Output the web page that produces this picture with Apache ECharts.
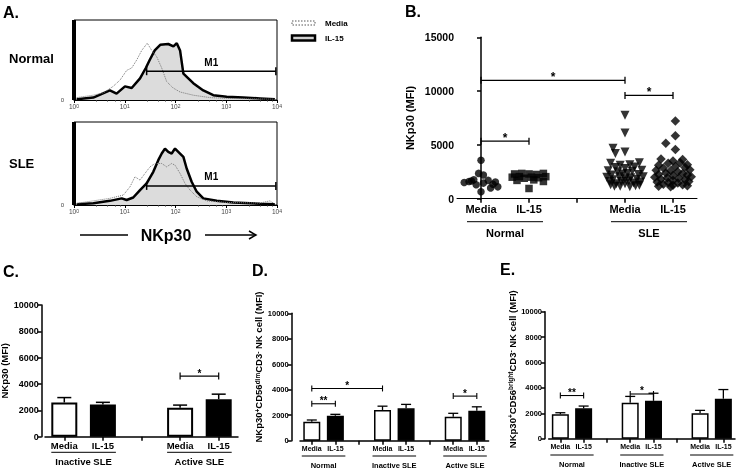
<!DOCTYPE html>
<html><head><meta charset="utf-8">
<script src="https://cdn.jsdelivr.net/npm/echarts@6/dist/echarts.min.js"></script>
<style>html,body{margin:0;padding:0;background:#fff}#c{width:740px;height:468px;will-change:transform}</style>
</head><body><div id="c"></div>
<script>
// ---------- Panel A: flow histograms [fluorescence, relative count] ----------
const histNormalMedia = [[1.13,3],[2.4,6],[3.8,9],[5.9,17],[8.1,25],[10.9,37],[13.7,40],[17.2,50],[21.6,62],[27.8,71],[34,62],[42.7,54],[53.5,40],[67,23],[90,15],[123,10],[224,6],[478,3],[1020,2],[9130,1]];
const histNormalIL15 = [[1.13,1],[2.4,3],[5.1,12],[6.9,8],[10.1,17],[13.7,15],[20,27],[26,40],[31,50],[39,62],[50,69],[72,70],[91,67],[106,71],[123,62],[143,33],[179,27],[224,21],[353,12],[556,6],[1020,4],[2170,3],[4620,2],[9130,1]];
const histSleMedia = [[1.13,2],[2.4,5],[5.1,8],[9.4,12],[12.7,22],[15.9,34],[20,30],[25,38],[31.5,46],[39.4,50],[53.5,50],[67,46],[84,50],[98,48],[123,38],[154,26],[193,18],[262,10],[412,5],[1020,3],[4620,2.4],[7280,5],[9130,1]];
const histSleIL15 = [[1.13,1],[2.4,2],[5.1,5],[8.7,8],[10.9,6],[14.7,9],[20,18],[27,26],[36.5,40],[45.8,54],[53.5,62],[62,68],[72,64],[84,62],[98,68],[123,62],[143,58],[166,44],[208,28],[262,16],[353,8],[649,5],[1377,3],[4620,1.6],[9130,1]];
const histSpike = [[1,0],[1,100]];
const m1Normal = [[27, 9500, 36]];
const m1Sle = [[27, 9500, 23]];
const m1Labels = ['M1'];

// ---------- Panel B: scatter [jitter, MFI] ----------
const catsB = ['Media','IL-15','','Media','IL-15'];
const groupsB = [[0,1],[3,4]];
const groupNamesB = ['Normal','SLE'];
const bNormalMedia = [[0,3580],[-0.05,2350],[0.05,2200],[-0.25,1600],[-0.15,1750],[0.15,1700],[-0.35,1500],[0.3,1550],[0.05,1450],[0.35,1100],[0.2,1000],[-0.1,1300],[0,650],[-0.2,1650],[0.25,1350]];
const bNormalIL15 = [[-0.3,2300],[-0.15,2350],[0,2300],[0.15,2250],[0.3,2350],[-0.35,2000],[-0.2,2050],[0.05,2000],[0.2,1950],[0.35,2050],[-0.25,1700],[0.1,1750],[0.3,1600],[0,950],[-0.1,1900]];
const bSleMedia = [[0,7750],[0,6100],[-0.25,4700],[-0.2,4200],[0,4350],[-0.3,3300],[0.3,3350],[-0.1,3100],[0.1,3150],[-0.2,2900],[0.2,2950],[0,2800],[-0.35,2600],[0.35,2650],[-0.15,2500],[0.15,2550],[0.05,2350],[-0.05,2300],[-0.28,2200],[0.28,2250],[-0.38,2000],[0.38,2050],[-0.12,2050],[0.12,1950],[0,1850],[-0.25,1750],[0.25,1800],[-0.32,1600],[0.32,1550],[-0.08,1600],[0.08,1650],[-0.18,1400],[0.18,1450],[-0.3,1300],[0.3,1250],[0,1400],[-0.1,1150],[0.1,1100],[0.22,1200],[-0.22,1150]];
const bSleIL15 = [[0.05,7220],[0.05,5850],[-0.15,5150],[0.05,4570],[-0.25,3700],[0.2,3650],[0,3500],[-0.1,3300],[0.15,3350],[-0.3,3100],[0.3,3150],[0.05,3000],[-0.2,2850],[0.25,2900],[-0.35,2650],[0.35,2700],[-0.05,2600],[0.1,2500],[-0.15,2400],[0.2,2350],[-0.3,2250],[0.3,2200],[0,2150],[-0.38,2000],[0.38,2050],[-0.12,1950],[0.12,1900],[-0.25,1800],[0.25,1750],[0,1700],[-0.33,1550],[0.33,1600],[-0.1,1500],[0.1,1450],[-0.2,1350],[0.2,1300],[0,1250],[-0.3,1150],[0.3,1200],[-0.05,1100]];
const bracketsB = [[0,3,11000],[3,4,9600],[0,1,5350]];
const bracketLabelsB = ['*','*','*'];

// ---------- Panel C: bars ----------
const catsC = ['Media','IL-15','','Media','IL-15'];
const groupsC = [[0,1],[3,4]];
const groupNamesC = ['Inactive SLE','Active SLE'];
const cMediaIdx = [0,3], cIL15Idx = [1,4];
const cMedia = [2600, 2200], cMediaErr = [370, 200];
const cIL15 = [2450, 2850], cIL15Err = [160, 380];
const bracketsC = [[3,4,4600]];
const bracketLabelsC = ['*'];

// ---------- Panel D ----------
const catsD = ['Media','IL-15','','Media','IL-15','','Media','IL-15'];
const groupsD = [[0,1],[3,4],[6,7]];
const groupNamesD = ['Normal','Inactive SLE','Active SLE'];
const dMediaIdx = [0,3,6], dIL15Idx = [1,4,7];
const dMedia = [1480, 2400, 1880], dMediaErr = [145, 310, 270];
const dIL15 = [1960, 2540, 2350], dIL15Err = [110, 310, 310];
const bracketsD = [[0,1,2900],[0,3,4100],[6,7,3500]];
const bracketLabelsD = ['**','*','*'];

// ---------- Panel E ----------
const catsE = catsD;
const groupsE = groupsD;
const groupNamesE = groupNamesD;
const eMedia = [1920, 2830, 2000], eMediaErr = [125, 500, 230];
const eIL15 = [2390, 2980, 3150], eIL15Err = [180, 600, 720];
const bracketsE = [[0,1,3400],[3,4,3520]];
const bracketLabelsE = ['**','*'];

const F = '"Liberation Sans", Arial, Helvetica, sans-serif';
const bold = (s) => ({fontFamily:F, fontWeight:'bold', fontSize:s, color:'#000'});
const plain = (v) => String(v);

function place(n, idxs, vals){ const a = new Array(n).fill('-'); idxs.forEach((k,i)=>a[k]=vals[i]); return a; }
function errData(idxs, vals, errs){ return idxs.map((k,i)=>[k, vals[i], errs[i]]); }

function bracketSeries(xi, yi, data, labels, cap, fs, lift, lw){
  return {type:'custom', xAxisIndex:xi, yAxisIndex:yi, data, encode:{x:[0,1], y:2}, silent:true, z:6, clip:false,
    renderItem(params, api){
      const a = api.coord([api.value(0), api.value(2)]);
      const b = api.coord([api.value(1), api.value(2)]);
      const st = {stroke:'#000', lineWidth:lw||1.3};
      return {type:'group', children:[
        {type:'line', shape:{x1:a[0],y1:a[1],x2:b[0],y2:b[1]}, style:st},
        {type:'line', shape:{x1:a[0],y1:a[1]-cap,x2:a[0],y2:a[1]+cap}, style:st},
        {type:'line', shape:{x1:b[0],y1:b[1]-cap,x2:b[0],y2:b[1]+cap}, style:st},
        {type:'text', style:{x:(a[0]+b[0])/2, y:a[1]-lift, text:labels[params.dataIndex], fill:'#000',
          fontFamily:F, fontWeight:'bold', fontSize:fs, align:'center', verticalAlign:'middle'}}
      ]};
    }};
}
function errSeries(xi, yi, data, capW, lw){
  return {type:'custom', xAxisIndex:xi, yAxisIndex:yi, data, encode:{x:0, y:1}, silent:true, z:1,
    renderItem(params, api){
      const p0 = api.coord([api.value(0), api.value(1)]);
      const p1 = api.coord([api.value(0), api.value(1)+api.value(2)]);
      const st = {stroke:'#000', lineWidth:lw};
      return {type:'group', children:[
        {type:'line', shape:{x1:p0[0],y1:p0[1],x2:p1[0],y2:p1[1]}, style:st},
        {type:'line', shape:{x1:p1[0]-capW/2,y1:p1[1],x2:p1[0]+capW/2,y2:p1[1]}, style:st}
      ]};
    }};
}
function groupSeries(xi, yi, data, names, ext, lineOff, textOff, fs){
  return {type:'custom', xAxisIndex:xi, yAxisIndex:yi, data, silent:true, z:6, clip:false,
    renderItem(params, api){
      const a = api.coord([api.value(0), 0]);
      const b = api.coord([api.value(1), 0]);
      const y = a[1];
      return {type:'group', children:[
        {type:'line', shape:{x1:a[0]-ext,y1:y+lineOff,x2:b[0]+ext,y2:y+lineOff}, style:{stroke:'#000', lineWidth:1}},
        {type:'text', style:{x:(a[0]+b[0])/2, y:y+textOff, text:names[params.dataIndex], fill:'#000',
          fontFamily:F, fontWeight:'bold', fontSize:fs, align:'center', verticalAlign:'middle'}}
      ]};
    }};
}

const histX = (gi) => ({type:'log', gridIndex:gi, min:1, max:10000, logBase:10,
  axisLine:{show:true, lineStyle:{color:'#000', width:1}},
  axisTick:{show:true, length:3, lineStyle:{color:'#000'}},
  minorTick:{show:true, length:1.5, splitNumber:5, lineStyle:{color:'#333'}},
  splitLine:{show:false}, minorSplitLine:{show:false},
  axisLabel:{fontFamily:F, fontSize:6.5, color:'#444', margin:3,
    formatter:(v)=>'10{s|'+Math.round(Math.log10(v))+'}',
    rich:{s:{fontFamily:F, fontSize:5, color:'#444', verticalAlign:'top'}}}});
const histY = (gi) => ({type:'value', gridIndex:gi, min:0, max:100, interval:50,
  axisLine:{show:false}, axisTick:{show:false}, splitLine:{show:false},
  axisLabel:{fontFamily:F, fontSize:6, color:'#444', margin:10, formatter:(v)=>v===0?'0':''}});

const barCatX = (gi, cats, fs, margin) => ({type:'category', gridIndex:gi, data:cats,
  axisLine:{show:true, lineStyle:{color:'#000', width:1.5}},
  axisTick:{show:true, alignWithLabel:true, length:4, lineStyle:{color:'#000', width:1.5}},
  axisLabel:{interval:0, margin, ...bold(fs)}, splitLine:{show:false}});
const barY = (gi, fs, offset, name, nameGap, nameStyle) => ({type:'value', gridIndex:gi, min:0, max:10000, interval:2000, offset,
  axisLine:{show:true, lineStyle:{color:'#000', width:1.5}},
  axisTick:{show:true, length:4, lineStyle:{color:'#000', width:1.5}},
  axisLabel:{margin:3, formatter:plain, ...bold(fs)}, splitLine:{show:false},
  name, nameLocation:'middle', nameGap, nameTextStyle:nameStyle});

const richName = (sup) => '{a|NKp30}{s|+}{a|CD56}{s|'+sup+'}{a|CD3}{s|-}{a| NK cell (MFI)}';
const richStyle = (pad) => ({padding:pad, rich:{a:{...bold(9.5)}, s:{...bold(6.5), verticalAlign:'top'}}});

const scatter = (name, data, gi, symbol, size, rot) => ({type:'scatter', name, xAxisIndex:3, yAxisIndex:2,
  data:data.map(d=>[gi+d[0], d[1]]), symbol, symbolSize:size, symbolRotate:rot||0,
  itemStyle:{color:'#000'}, z:3});

const barPair = (xi, yi, n, mIdx, mVals, iIdx, iVals, w, bw, nameM, nameI) => [
  {type:'bar', name:nameM, xAxisIndex:xi, yAxisIndex:yi, data:place(n, mIdx, mVals), barWidth:w, barGap:'-100%',
    itemStyle:{color:'#fff', borderColor:'#000', borderWidth:bw}, z:2},
  {type:'bar', name:nameI, xAxisIndex:xi, yAxisIndex:yi, data:place(n, iIdx, iVals), barWidth:w, barGap:'-100%',
    itemStyle:{color:'#000', borderColor:'#000', borderWidth:bw}, z:2}];

const gridBase = {show:false, outerBoundsMode:'none', containLabel:false};
const option = {
  animation:false,
  backgroundColor:'#fff',
  grid:[
    {...gridBase, show:true, borderColor:'#000', borderWidth:1, left:74, top:20, width:203, height:80},
    {...gridBase, show:true, borderColor:'#000', borderWidth:1, left:74, top:122, width:203, height:83},
    {...gridBase, left:457, top:37.3, width:240, height:161.4},
    {...gridBase, left:45, top:305, width:193, height:131.7},
    {...gridBase, left:300, top:313.3, width:188.6, height:127.4},
    {...gridBase, left:548.7, top:311.7, width:186.3, height:127}
  ],
  xAxis:[
    histX(0), histX(1),
    {type:'category', gridIndex:2, data:catsB,
      axisLine:{show:true, lineStyle:{color:'#000', width:1}},
      axisTick:{show:true, alignWithLabel:true, length:4, lineStyle:{color:'#000', width:1.5}},
      axisLabel:{interval:0, margin:5, ...bold(11)}, splitLine:{show:false}},
    {type:'value', gridIndex:2, min:-0.5, max:4.5, show:false},
    barCatX(3, catsC, 9.5, 4),
    barCatX(4, catsD, 7, 4),
    barCatX(5, catsE, 7, 4)
  ],
  yAxis:[
    histY(0), histY(1),
    {type:'value', gridIndex:2, min:0, max:15000, interval:5000,
      axisLine:{show:true, lineStyle:{color:'#000', width:1.5}},
      axisTick:{show:true, length:4, lineStyle:{color:'#000', width:1.5}},
      axisLabel:{margin:3, formatter:plain, ...bold(10.5)}, splitLine:{show:false},
      name:'NKp30 (MFI)', nameLocation:'middle', nameGap:42, nameTextStyle:bold(11)},
    barY(3, 9, 3.3, 'NKp30 (MFI)', 27, bold(9.5)),
    barY(4, 7.5, 8.3, richName('dim'), 25, richStyle([0,0,0,20])),
    barY(5, 7.5, 3.7, richName('bright'), 27, richStyle([0,0,0,12]))
  ],
  graphic:[
    {type:'text', left:3, top:4, style:{text:'A.', fontFamily:F, fontWeight:'bold', fontSize:16, fill:'#000'}},
    {type:'text', left:405, top:3, style:{text:'B.', fontFamily:F, fontWeight:'bold', fontSize:16, fill:'#000'}},
    {type:'text', left:3, top:263, style:{text:'C.', fontFamily:F, fontWeight:'bold', fontSize:16, fill:'#000'}},
    {type:'text', left:252, top:262, style:{text:'D.', fontFamily:F, fontWeight:'bold', fontSize:16, fill:'#000'}},
    {type:'text', left:500, top:261, style:{text:'E.', fontFamily:F, fontWeight:'bold', fontSize:16, fill:'#000'}},
    {type:'text', x:9, y:58, style:{text:'Normal', fontFamily:F, fontWeight:'bold', fontSize:13, fill:'#000', verticalAlign:'middle'}},
    {type:'text', x:9, y:163, style:{text:'SLE', fontFamily:F, fontWeight:'bold', fontSize:13, fill:'#000', verticalAlign:'middle'}},
    {type:'text', x:166, y:235, style:{text:'NKp30', fontFamily:F, fontWeight:'bold', fontSize:16, fill:'#000', align:'center', verticalAlign:'middle'}},
    {type:'line', shape:{x1:80,y1:235,x2:128,y2:235}, style:{stroke:'#000', lineWidth:1.5}},
    {type:'line', shape:{x1:205,y1:235,x2:256,y2:235}, style:{stroke:'#000', lineWidth:1.5}},
    {type:'polyline', shape:{points:[[249,231],[256,235],[249,239]]}, style:{stroke:'#000', lineWidth:1.5, fill:'none'}},
    {type:'rect', shape:{x:292,y:21,width:23,height:4}, style:{fill:'#fff', stroke:'#555', lineWidth:1, lineDash:[1.5,1.5]}},
    {type:'text', x:325, y:23, style:{text:'Media', fontFamily:F, fontWeight:'bold', fontSize:8, fill:'#000', verticalAlign:'middle'}},
    {type:'rect', shape:{x:292,y:35.5,width:23,height:5}, style:{fill:'#d0d0d0', stroke:'#000', lineWidth:2.5}},
    {type:'text', x:325, y:38, style:{text:'IL-15', fontFamily:F, fontWeight:'bold', fontSize:8, fill:'#000', verticalAlign:'middle'}}
  ],
  series:[
    // Panel A
    {type:'line', name:'IL-15', xAxisIndex:0, yAxisIndex:0, data:histNormalIL15, symbol:'none', lineStyle:{color:'#000', width:2.5}, areaStyle:{color:'#dcdcdc', opacity:1}, z:2},
    {type:'line', name:'Media', xAxisIndex:0, yAxisIndex:0, data:histNormalMedia, symbol:'none', lineStyle:{color:'#777', width:1, type:'dotted'}, z:3},
    {type:'line', name:'spike', xAxisIndex:0, yAxisIndex:0, data:histSpike, symbol:'none', lineStyle:{color:'#000', width:4}, clip:false, z:4},
    bracketSeries(0, 0, m1Normal, m1Labels, 4, 10, 9, 1.5),
    {type:'line', name:'IL-15', xAxisIndex:1, yAxisIndex:1, data:histSleIL15, symbol:'none', lineStyle:{color:'#000', width:2.5}, areaStyle:{color:'#dcdcdc', opacity:1}, z:2},
    {type:'line', name:'Media', xAxisIndex:1, yAxisIndex:1, data:histSleMedia, symbol:'none', lineStyle:{color:'#777', width:1, type:'dotted'}, z:3},
    {type:'line', name:'spike', xAxisIndex:1, yAxisIndex:1, data:histSpike, symbol:'none', lineStyle:{color:'#000', width:4}, clip:false, z:4},
    bracketSeries(1, 1, m1Sle, m1Labels, 4, 10, 9, 1.5),
    // Panel B
    scatter('Normal Media', bNormalMedia, 0, 'circle', 7.5),
    scatter('Normal IL-15', bNormalIL15, 1, 'rect', 7.5),
    scatter('SLE Media', bSleMedia, 3, 'triangle', 9, 180),
    scatter('SLE IL-15', bSleIL15, 4, 'diamond', 9.5),
    bracketSeries(3, 2, bracketsB, bracketLabelsB, 3.5, 12, 3, 1.3),
    groupSeries(3, 2, groupsB, groupNamesB, 14, 23, 34, 11),
    // Panel C
    ...barPair(4, 3, 5, cMediaIdx, cMedia, cIL15Idx, cIL15, 26, 2, 'C Media', 'C IL-15'),
    errSeries(4, 3, errData(cMediaIdx, cMedia, cMediaErr), 14, 1.5),
    errSeries(4, 3, errData(cIL15Idx, cIL15, cIL15Err), 14, 1.5),
    bracketSeries(4, 3, bracketsC, bracketLabelsC, 3.5, 10, 3, 1.2),
    groupSeries(4, 3, groupsC, groupNamesC, 13, 15.6, 25, 9.5),
    // Panel D
    ...barPair(5, 4, 8, dMediaIdx, dMedia, dIL15Idx, dIL15, 17, 1.5, 'D Media', 'D IL-15'),
    errSeries(5, 4, errData(dMediaIdx, dMedia, dMediaErr), 10, 1.3),
    errSeries(5, 4, errData(dIL15Idx, dIL15, dIL15Err), 10, 1.3),
    bracketSeries(5, 4, bracketsD, bracketLabelsD, 3, 10, 3, 1.1),
    groupSeries(5, 4, groupsD, groupNamesD, 10, 15.3, 24.3, 7.5),
    // Panel E
    ...barPair(6, 5, 8, dMediaIdx, eMedia, dIL15Idx, eIL15, 17, 1.5, 'E Media', 'E IL-15'),
    errSeries(6, 5, errData(dMediaIdx, eMedia, eMediaErr), 10, 1.3),
    errSeries(6, 5, errData(dIL15Idx, eIL15, eIL15Err), 10, 1.3),
    bracketSeries(6, 5, bracketsE, bracketLabelsE, 3, 10, 3, 1.1),
    groupSeries(6, 5, groupsE, groupNamesE, 10, 16.3, 25.6, 7.5)
  ]
};
const chart = echarts.init(document.getElementById('c'), null, {renderer:'svg', width:740, height:468});
chart.setOption(option);
</script></body></html>
